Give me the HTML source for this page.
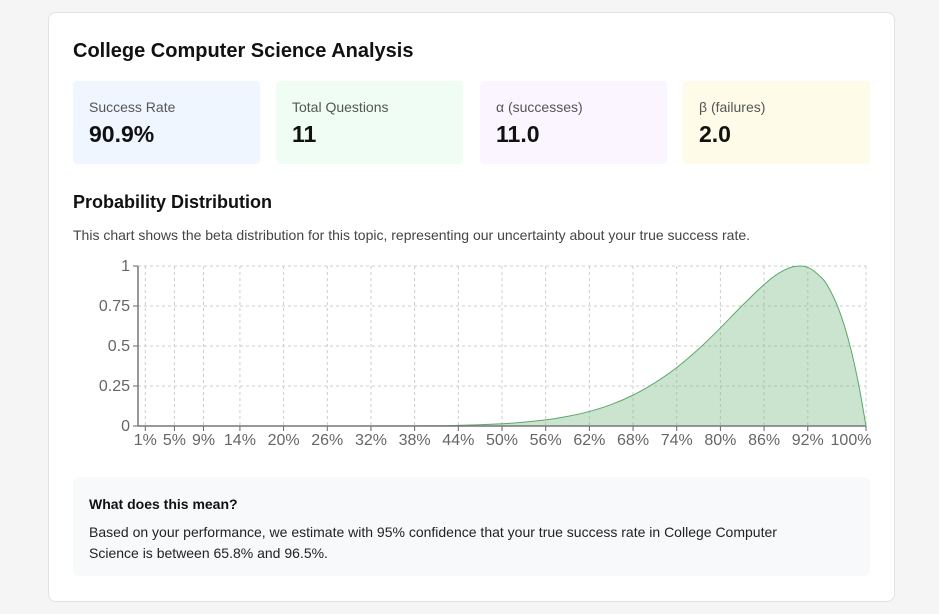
<!DOCTYPE html>
<html><head><meta charset="utf-8">
<style>
*{box-sizing:border-box;margin:0;padding:0}
body{width:939px;height:614px;background:#f5f5f5;font-family:"Liberation Sans","Noto Sans CJK JP",sans-serif;color:#111;position:relative;overflow:hidden}
.card{position:absolute;left:48px;top:12px;width:847px;height:590px;background:#fff;border:1px solid #e2e2e2;border-radius:8px}
.abs{position:absolute}
h1{position:absolute;left:73px;top:40px;font-size:20px;font-weight:bold}
.stat{position:absolute;top:81px;width:187px;height:83px;border-radius:4px}
.stat .l{position:absolute;left:16px;top:18px;font-size:14px;color:#555}
.stat .v{position:absolute;left:16px;top:40px;font-size:23px;font-weight:bold}
h2{position:absolute;left:73px;top:192px;font-size:18px;font-weight:bold}
.desc{position:absolute;left:73px;top:227px;font-size:14px;color:#444}
.info{position:absolute;left:73px;top:477px;width:797px;height:99px;background:#f8f9fa;border-radius:6px}
.info h3{position:absolute;left:16px;top:19px;font-size:14px;font-weight:bold}
.info p{position:absolute;left:16px;top:45px;width:725px;font-size:14px;line-height:21px;color:#222}
svg text{font-family:"Liberation Sans",sans-serif;font-size:16px;fill:#666}
</style></head><body>
<div class="card"></div>
<h1>College Computer Science Analysis</h1>
<div class="stat" style="left:73px;background:#eff6ff"><div class="l">Success Rate</div><div class="v">90.9%</div></div>
<div class="stat" style="left:276px;background:#f0fdf4"><div class="l">Total Questions</div><div class="v">11</div></div>
<div class="stat" style="left:480px;background:#faf5ff"><div class="l">α (successes)</div><div class="v">11.0</div></div>
<div class="stat" style="left:683px;background:#fefce8"><div class="l">β (failures)</div><div class="v">2.0</div></div>
<h2>Probability Distribution</h2>
<div class="desc">This chart shows the beta distribution for this topic, representing our uncertainty about your true success rate.</div>
<svg id="chart" class="abs" style="left:0;top:0" width="939" height="470"></svg>
<div class="info"><h3>What does this mean?</h3><p>Based on your performance, we estimate with 95% confidence that your true success rate in College Computer Science is between 65.8% and 96.5%.</p></div>
<script>
const xTicks=[0.01,0.05,0.09,0.14,0.20,0.26,0.32,0.38,0.44,0.50,0.56,0.62,0.68,0.74,0.80,0.86,0.92,1.00];
const yTicks=[0,0.25,0.5,0.75,1];
const yTickLabels=["0","0.25","0.5","0.75","1"];
const xs=[0,0.2,0.3,0.38,0.44,0.5,0.53,0.56,0.59,0.62,0.65,0.68,0.71,0.74,0.77,0.8,0.83,0.86,0.88,0.9,0.92,0.94,0.95,0.96,0.97,0.98,0.99,1.0];
const ys=[0,0,0,0.001,0.004,0.014,0.024,0.038,0.06,0.091,0.134,0.193,0.27,0.365,0.481,0.613,0.753,0.884,0.954,0.995,0.992,0.922,0.854,0.759,0.631,0.466,0.258,0];
const NS="http://www.w3.org/2000/svg";
const svg=document.getElementById('chart');
const X0=138,X1=866,Y0=426,Y1=266;
const sx=v=>X0+v*(X1-X0), sy=v=>Y0-v*(Y0-Y1);
function mk(t,a){const e=document.createElementNS(NS,t);for(const k in a)e.setAttribute(k,a[k]);svg.appendChild(e);return e;}
xTicks.forEach((t,i)=>{
 const g=mk('line',{x1:sx(t),x2:sx(t),y1:Y1,y2:Y0,stroke:'#ccc','stroke-dasharray':'3,3'});
 
 
 const tk=mk('line',{x1:sx(t),x2:sx(t),y1:Y0,y2:Y0+5,stroke:'#666'});
 
 
 const lx=(i===xTicks.length-1)?sx(t)-15:sx(t);
 const tx=mk('text',{x:lx,y:Y0+19,'text-anchor':'middle'});tx.textContent=Math.round(t*100)+'%';
 
 
});
yTicks.forEach((t,i)=>{
 if(t>0){const g=mk('line',{x1:X0,x2:X1,y1:sy(t),y2:sy(t),stroke:'#ccc','stroke-dasharray':'3,3'});
 
 }
 const tk=mk('line',{x1:X0-5,x2:X0,y1:sy(t),y2:sy(t),stroke:'#666'});
 
 
 const tx=mk('text',{x:X0-8,y:sy(t)+5,'text-anchor':'end'});tx.textContent=yTickLabels[i];
 
 
});
let d='M'+sx(xs[0])+','+sy(ys[0]);
for(let i=1;i<xs.length;i++){
 const x0=sx(xs[i-1]),y0=sy(ys[i-1]),x1=sx(xs[i]),y1=sy(ys[i]);
 const p=i>1?[sx(xs[i-2]),sy(ys[i-2])]:[x0,y0], n=i<xs.length-1?[sx(xs[i+1]),sy(ys[i+1])]:[x1,y1];
 const c1x=x0+(x1-p[0])/6,c1y=y0+(y1-p[1])/6,c2x=x1-(n[0]-x0)/6,c2y=y1-(n[1]-y0)/6;
 d+=` C${c1x},${Math.min(Y0,c1y)} ${c2x},${Math.min(Y0,c2y)} ${x1},${y1}`;
}
const area=mk('path',{d:d+` L${sx(1)},${Y0} L${sx(0)},${Y0} Z`,fill:'rgba(130,190,140,0.42)',stroke:'none'});


const line=mk('path',{d:d,fill:'none',stroke:'#5aa86a','stroke-width':1});


const xa=mk('line',{x1:X0,x2:X1,y1:Y0,y2:Y0,stroke:'#777','stroke-width':1.5});


const ya=mk('line',{x1:X0,x2:X0,y1:Y1,y2:Y0,stroke:'#777','stroke-width':1.5});


</script>
</body></html>
